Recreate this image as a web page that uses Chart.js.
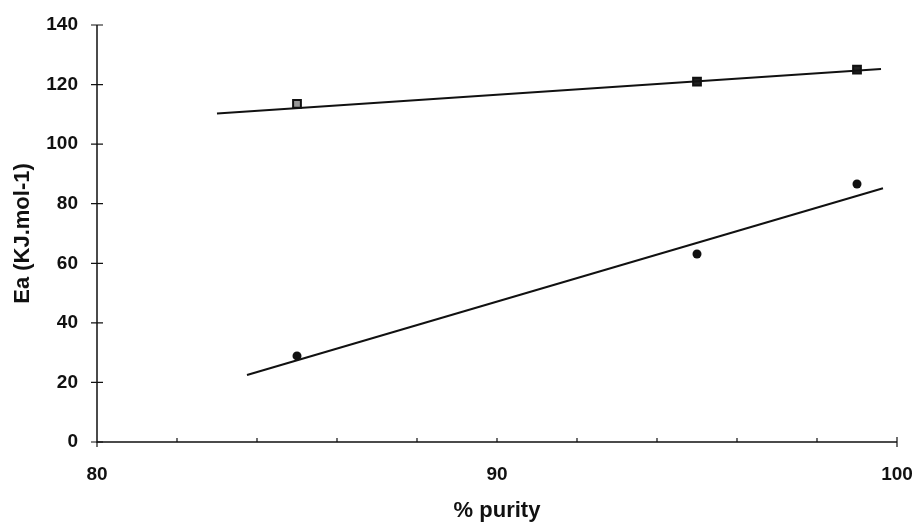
<!DOCTYPE html>
<html>
<head>
<meta charset="utf-8">
<script src="https://cdn.jsdelivr.net/npm/chart.js@4.4.0/dist/chart.umd.min.js"></script>
<style>
    html, body { margin: 0; padding: 0; background: #fff; }
    #wrap { width: 915px; height: 524px; }
</style>
</head>
<body>
<div id="wrap"><canvas id="eaChart" width="915" height="524"></canvas></div>
<script>
// datos
const purity = [85, 95, 99];
const eaSquares = [113.5, 121, 125];
const eaCircles = [28.9, 63.1, 86.6];

// rectas de ajuste (extremos)
const upperFitX = [83, 99.6];
const upperFitY = [110.3, 125.2];
const lowerFitX = [83.75, 99.65];
const lowerFitY = [22.5, 85.2];

const xLabels = [80, 90, 100];
const yTicks = [0, 20, 40, 60, 80, 100, 120, 140];

const toPoints = (xs, ys) => xs.map((x, i) => ({ x: x, y: ys[i] }));

// ejes dibujados a mano (linea + marcas)
const axesPlugin = {
    id: "axesPlugin",
    afterDatasetsDraw(chart) {
        const { ctx, scales: { x, y } } = chart;
        const x0 = x.getPixelForValue(80);
        const y0 = y.getPixelForValue(0);
        ctx.save();
        ctx.strokeStyle = "#111";
        ctx.lineWidth = 1.5;
        ctx.beginPath();
        ctx.moveTo(x0, y.getPixelForValue(140));
        ctx.lineTo(x0, y0);
        ctx.lineTo(x.getPixelForValue(100), y0);
        ctx.stroke();

        ctx.lineWidth = 1.2;
        ctx.beginPath();
        yTicks.forEach(v => {
            const py = y.getPixelForValue(v);
            ctx.moveTo(x0 - 6, py);
            ctx.lineTo(x0 + 6, py);
        });
        for (let v = 82; v < 100; v += 2) {
            const px = x.getPixelForValue(v);
            ctx.moveTo(px, y0);
            ctx.lineTo(px, y0 - 4);
        }
        const xEnd = x.getPixelForValue(100);
        ctx.moveTo(xEnd, y0 - 5);
        ctx.lineTo(xEnd, y0 + 5);
        ctx.moveTo(x0, y0 + 5);
        ctx.lineTo(x0, y0);
        ctx.stroke();
        ctx.restore();
    }
};

const ctx = document.getElementById("eaChart").getContext("2d");
new Chart(ctx, {
    type: "scatter",
    data: {
        datasets: [
            {
                label: "ajuste superior",
                data: toPoints(upperFitX, upperFitY),
                showLine: true,
                borderColor: "#111",
                borderWidth: 2,
                pointRadius: 0
            },
            {
                label: "ajuste inferior",
                data: toPoints(lowerFitX, lowerFitY),
                showLine: true,
                borderColor: "#111",
                borderWidth: 2,
                pointRadius: 0
            },
            {
                label: "cuadrados",
                data: toPoints(purity, eaSquares),
                pointStyle: "rect",
                pointRadius: 5.5,
                backgroundColor: ["#999", "#222", "#222"],
                borderColor: "#111",
                borderWidth: 2
            },
            {
                label: "circulos",
                data: toPoints(purity, eaCircles),
                pointStyle: "circle",
                pointRadius: 4.5,
                backgroundColor: "#111",
                borderColor: "#111",
                borderWidth: 0
            }
        ]
    },
    options: {
        responsive: false,
        animation: false,
        layout: { padding: { top: 25, right: 18, bottom: 0, left: 0 } },
        plugins: {
            legend: { display: false },
            tooltip: { enabled: false }
        },
        scales: {
            x: {
                type: "linear",
                min: 80,
                max: 100,
                grid: { display: false, drawTicks: false },
                border: { display: false },
                afterFit: scale => {
                    scale.height = 82;
                    scale.paddingLeft = 0;
                    scale.paddingRight = 0;
                },
                afterBuildTicks: scale => {
                    scale.ticks = xLabels.map(v => ({ value: v }));
                },
                ticks: {
                    autoSkip: false,
                    maxRotation: 0,
                    padding: 21,
                    color: "#111",
                    font: { family: "Liberation Sans", size: 19, weight: "bold" }
                },
                title: {
                    display: true,
                    text: "% purity",
                    color: "#111",
                    padding: { top: 0, bottom: 0 },
                    font: { family: "Liberation Sans", size: 22, weight: "bold" }
                }
            },
            y: {
                min: 0,
                max: 140,
                grid: { display: false, drawTicks: false },
                border: { display: false },
                afterFit: scale => {
                    scale.width = 97;
                    scale.paddingTop = 0;
                    scale.paddingBottom = 0;
                },
                ticks: {
                    stepSize: 20,
                    padding: 19,
                    color: "#111",
                    font: { family: "Liberation Sans", size: 19, weight: "bold" }
                },
                title: {
                    display: true,
                    text: "Ea (KJ.mol-1)",
                    color: "#111",
                    padding: { top: 10, bottom: 0 },
                    font: { family: "Liberation Sans", size: 22, weight: "bold" }
                }
            }
        }
    },
    plugins: [axesPlugin]
});
</script>
</body>
</html>
